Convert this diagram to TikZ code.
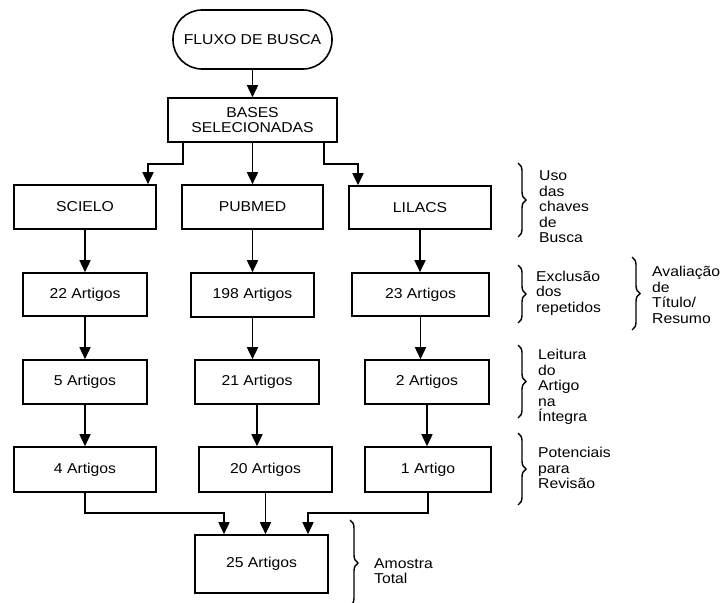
\documentclass[tikz,border=0pt]{standalone}
\usepackage{fontspec}
\setmainfont{Liberation Sans}[FakeStretch=1.1]
\usetikzlibrary{arrows.meta,decorations.pathreplacing}
\begin{document}
\begin{tikzpicture}[x=1pt,y=-1pt,
  font=\fontsize{14.3}{15.5}\selectfont,
  box/.style={draw,line width=1.6pt,inner sep=0pt,align=center},
  arr/.style={line width=1.6pt,-{Triangle[width=11pt,length=12pt]}},
  br/.style={line width=1.4pt,decorate,decoration={brace,amplitude=8pt}},
  note/.style={anchor=west,align=left,inner sep=0pt}]
\useasboundingbox (0,0) rectangle (722,602);
\clip (0,0) rectangle (722,602);
% nodes
\node[box,minimum width=159pt,minimum height=59pt,rounded corners=29pt] (fluxo) at (252.5,39.5) {FLUXO DE BUSCA};
\node[box,minimum width=169pt,minimum height=44pt] (bases) at (252.5,120) {BASES\\SELECIONADAS};
\node[box,minimum width=142pt,minimum height=44pt] (scielo) at (85,207) {SCIELO};
\node[box,minimum width=141pt,minimum height=44pt] (pubmed) at (252.5,207) {PUBMED};
\node[box,minimum width=142pt,minimum height=43pt] (lilacs) at (420,207.5) {LILACS};
\node[box,minimum width=124pt,minimum height=43pt] (a22) at (85,294.5) {22 Artigos};
\node[box,minimum width=123pt,minimum height=44pt] (a198) at (252.5,295) {198 Artigos};
\node[box,minimum width=137pt,minimum height=43pt] (a23) at (420.5,294.5) {23 Artigos};
\node[box,minimum width=124pt,minimum height=44pt] (a5) at (85,382) {5 Artigos};
\node[box,minimum width=124pt,minimum height=44pt] (a21) at (257,382) {21 Artigos};
\node[box,minimum width=124pt,minimum height=44pt] (a2) at (427,382) {2 Artigos};
\node[box,minimum width=142pt,minimum height=45pt] (a4) at (85,469.5) {4 Artigos};
\node[box,minimum width=133pt,minimum height=45pt] (a20) at (265.5,469.5) {20 Artigos};
\node[box,minimum width=126pt,minimum height=45pt] (a1) at (428,469.5) {1 Artigo};
\node[box,minimum width=133pt,minimum height=58pt] (a25) at (261.5,564) {25 Artigos};
% connectors
\draw[arr] (fluxo.south) -- (fluxo.south |- bases.north);
\draw[arr] ([xshift=-69.5pt]bases.south) -- ++(0,21) -| ([xshift=63pt]scielo.north);
\draw[arr] (bases.south) -- (bases.south |- pubmed.north);
\draw[arr] ([xshift=71.5pt]bases.south) -- ++(0,21) -| ([xshift=-62pt]lilacs.north);
\draw[arr] (scielo.south) -- (scielo.south |- a22.north);
\draw[arr] (pubmed.south) -- (pubmed.south |- a198.north);
\draw[arr] (lilacs.south) -- (lilacs.south |- a23.north);
\draw[arr] (a22.south) -- (a22.south |- a5.north);
\draw[arr] (a198.south) -- (a198.south |- a21.north);
\draw[arr] (a23.south) -- (a23.south |- a2.north);
\draw[arr] (a5.south) -- (a5.south |- a4.north);
\draw[arr] (a21.south) -- (a21.south |- a20.north);
\draw[arr] (a2.south) -- (a2.south |- a1.north);
\draw[arr] (a4.south) -- ++(0,20) -| ([xshift=-37.5pt]a25.north);
\draw[arr] (a20.south) -- (a20.south |- a25.north);
\draw[arr] (a1.south) -- ++(0,20) -| ([xshift=46.5pt]a25.north);
% braces and notes
\coordinate (b1t) at (518,163); \coordinate (b1b) at (518,237);
\draw[br] (b1t) -- (b1b);
\node[note] (n1) at (539,207) {Uso\\das\\chaves\\de\\Busca};
\coordinate (b2t) at (518,265); \coordinate (b2b) at (518,323);
\draw[br] (b2t) -- (b2b);
\node[note] (n2) at (536,293) {Exclusão\\dos\\repetidos};
\coordinate (b3t) at (632,257); \coordinate (b3b) at (632,330);
\draw[br] (b3t) -- (b3b);
\node[note] (n3) at (652,295) {Avaliação\\de\\Título/\\Resumo};
\coordinate (b4t) at (518,345); \coordinate (b4b) at (518,418);
\draw[br] (b4t) -- (b4b);
\node[note] (n4) at (538,387) {Leitura\\do\\Artigo\\na\\Íntegra};
\coordinate (b5t) at (518,433); \coordinate (b5b) at (518,505);
\draw[br] (b5t) -- (b5b);
\node[note] (n5) at (538,468) {Potenciais\\para\\Revisão};
\coordinate (b6t) at (350,520); \coordinate (b6b) at (350,606);
\draw[br] (b6t) -- (b6b);
\node[note] (n6) at (374,571) {Amostra\\Total};
\end{tikzpicture}
\end{document}
